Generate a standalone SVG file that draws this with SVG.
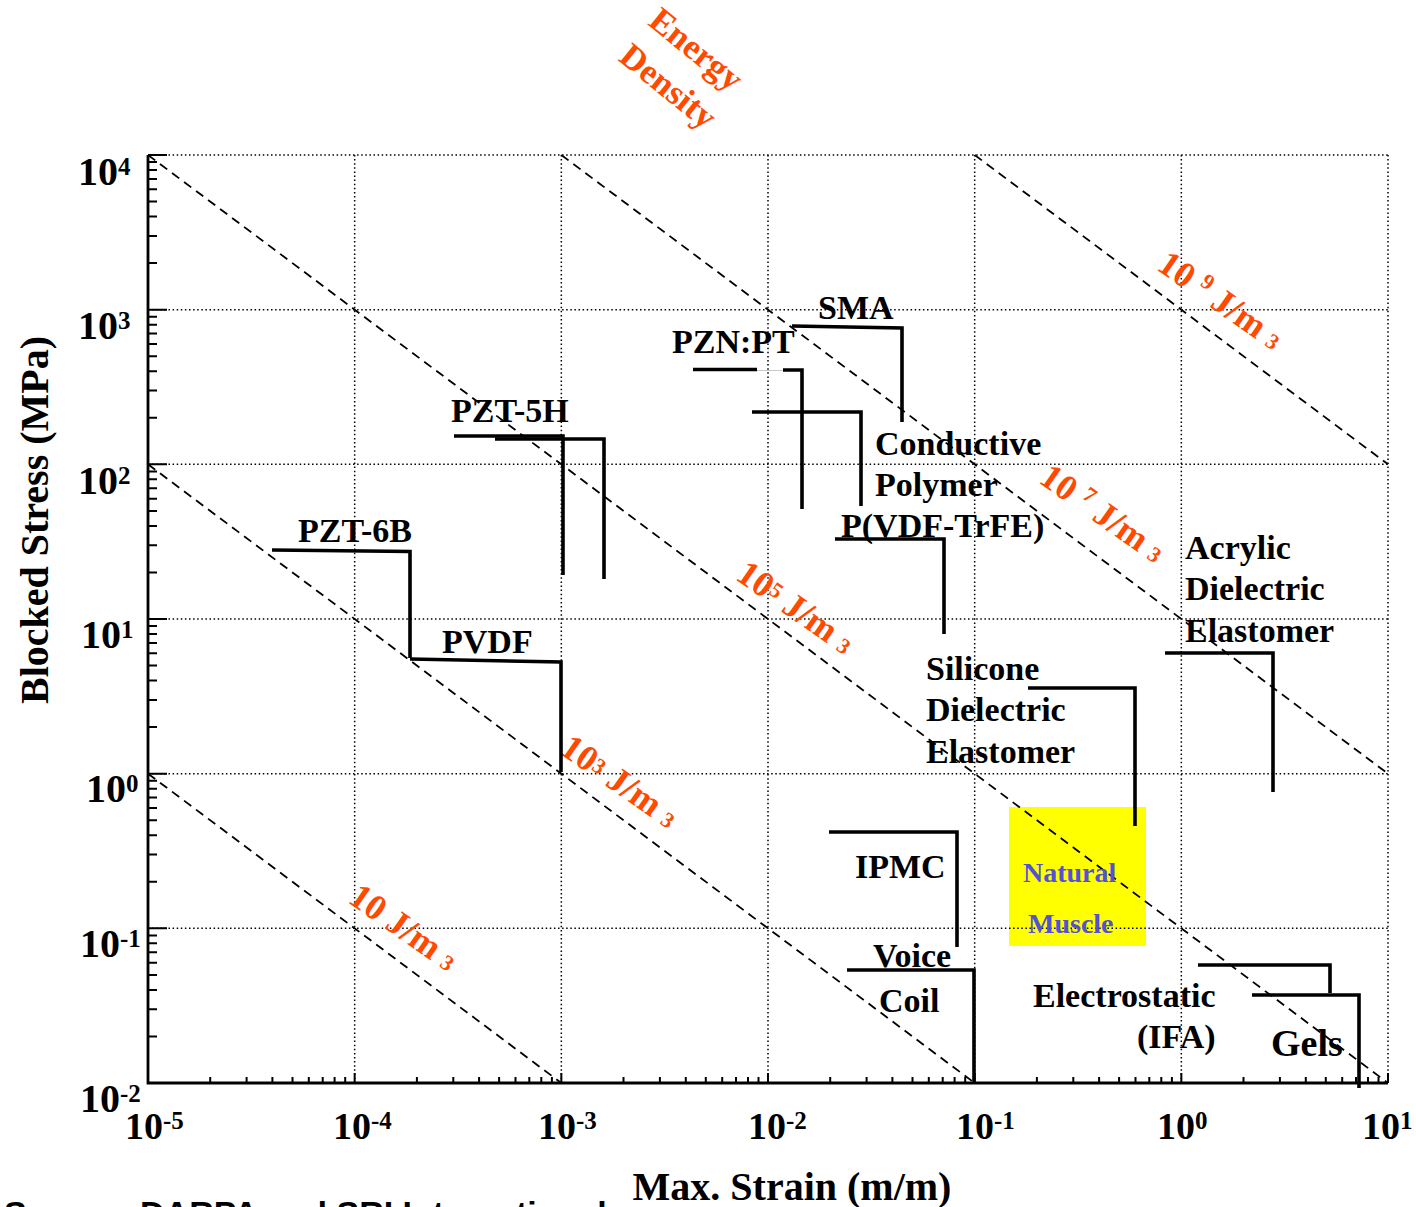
<svg xmlns="http://www.w3.org/2000/svg" width="1416" height="1207" viewBox="0 0 1416 1207">
<style>
.grid{stroke:#000;stroke-width:1.5;stroke-dasharray:1.5 2.6;fill:none}
.axis{stroke:#000;stroke-width:2.8;fill:none}
.tick{stroke:#000;stroke-width:2;fill:none}
.energy{stroke:#000;stroke-width:1.8;stroke-dasharray:9 6;fill:none}
.act{stroke:#000;stroke-width:3.6;fill:none}
.lbl{font-family:"Liberation Serif","Times New Roman",serif;font-weight:bold;font-size:34px;fill:#000}
.num{font-family:"Liberation Serif","Times New Roman",serif;font-weight:bold;font-size:40px;fill:#000}
.numx{font-family:"Liberation Serif","Times New Roman",serif;font-weight:bold;font-size:38px;fill:#000}
.sup{font-size:25px}
.el{font-family:"Liberation Serif","Times New Roman",serif;font-weight:bold;font-size:36px;fill:#FF4A00}
.ed{font-family:"Liberation Serif","Times New Roman",serif;font-weight:bold;font-size:35px;fill:#FF4A00}
.small{font-size:22px}
.nm{font-family:"Liberation Serif","Times New Roman",serif;font-weight:bold;font-size:28px;fill:#5252D4}
.title{font-family:"Liberation Serif","Times New Roman",serif;font-weight:bold;font-size:40px;fill:#000}
.src{font-family:"Liberation Sans",Arial,sans-serif;font-weight:bold;font-size:34px;fill:#000}
</style>
<rect width="1416" height="1207" fill="#fff"/>

<g id="natural-muscle-box">
<rect x="1009" y="807" width="137" height="139" fill="#FFFF00"/>
</g>

<g id="grid">
<path class="grid" d="M354.67,155V1083M561.33,155V1083M768,155V1083M974.67,155V1083M1181.33,155V1083M1388,155V1083"/>
<path class="grid" d="M148,155H1388M148,309.67H1388M148,464.33H1388M148,619H1388M148,773.67H1388M148,928.33H1388"/>
</g>

<g id="axes">
<path class="axis" d="M148,155V1083H1388"/>
<path class="tick" d="M148,155H167M148,309.67H167M148,464.33H167M148,619H167M148,773.67H167M148,928.33H167"/>
<path class="tick" d="M148,1036.4h9M148,1009.2h9M148,989.9h9M148,974.9h9M148,962.7h9M148,952.3h9M148,943.3h9M148,935.4h9
M148,881.8h9M148,854.5h9M148,835.2h9M148,820.2h9M148,808h9M148,797.6h9M148,788.7h9M148,780.7h9
M148,727.1h9M148,699.9h9M148,680.6h9M148,665.6h9M148,653.3h9M148,643h9M148,634h9M148,626.1h9
M148,572.4h9M148,545.2h9M148,525.9h9M148,510.9h9M148,498.7h9M148,488.3h9M148,479.3h9M148,471.4h9
M148,417.8h9M148,390.5h9M148,371.2h9M148,356.2h9M148,344h9M148,333.6h9M148,324.7h9M148,316.7h9
M148,263.1h9M148,235.9h9M148,216.6h9M148,201.6h9M148,189.3h9M148,179h9M148,170h9M148,162.1h9"/>
<path class="tick" d="M354.67,1083v-10M561.33,1083v-10M768,1083v-10M974.67,1083v-10M1181.33,1083v-10M1388,1083v-10"/>
<path class="tick" d="M210.2,1083v-6M246.6,1083v-6M272.4,1083v-6M292.5,1083v-6M308.8,1083v-6M322.7,1083v-6M334.6,1083v-6M345.2,1083v-6
M416.9,1083v-6M453.3,1083v-6M479.1,1083v-6M499.1,1083v-6M515.5,1083v-6M529.3,1083v-6M541.3,1083v-6M551.9,1083v-6
M623.5,1083v-6M659.9,1083v-6M685.8,1083v-6M705.8,1083v-6M722.2,1083v-6M736,1083v-6M748,1083v-6M758.5,1083v-6
M830.2,1083v-6M866.6,1083v-6M892.4,1083v-6M912.5,1083v-6M928.8,1083v-6M942.7,1083v-6M954.6,1083v-6M965.2,1083v-6
M1036.9,1083v-6M1073.3,1083v-6M1099.1,1083v-6M1119.1,1083v-6M1135.5,1083v-6M1149.3,1083v-6M1161.3,1083v-6M1171.9,1083v-6
M1243.5,1083v-6M1279.9,1083v-6M1305.8,1083v-6M1325.8,1083v-6M1342.2,1083v-6M1356,1083v-6M1368,1083v-6M1378.5,1083v-6"/>
</g>

<g id="tick-labels">
<text class="num" x="78" y="185">10<tspan class="sup" dy="-10">4</tspan></text>
<text class="num" x="78" y="339">10<tspan class="sup" dy="-10">3</tspan></text>
<text class="num" x="78" y="494">10<tspan class="sup" dy="-10">2</tspan></text>
<text class="num" x="81" y="648">10<tspan class="sup" dy="-10">1</tspan></text>
<text class="num" x="86" y="802">10<tspan class="sup" dy="-10">0</tspan></text>
<text class="num" x="80" y="957">10<tspan class="sup" dy="-10">-1</tspan></text>
<text class="num" x="80" y="1112">10<tspan class="sup" dy="-10">-2</tspan></text>
<text class="numx" x="125" y="1139">10<tspan class="sup" dy="-10">-5</tspan></text>
<text class="numx" x="333" y="1139">10<tspan class="sup" dy="-10">-4</tspan></text>
<text class="numx" x="538" y="1139">10<tspan class="sup" dy="-10">-3</tspan></text>
<text class="numx" x="748" y="1139">10<tspan class="sup" dy="-10">-2</tspan></text>
<text class="numx" x="956" y="1139">10<tspan class="sup" dy="-10">-1</tspan></text>
<text class="numx" x="1157" y="1139">10<tspan class="sup" dy="-10">0</tspan></text>
<text class="numx" x="1362" y="1139">10<tspan class="sup" dy="-10">1</tspan></text>
</g>

<g id="axis-titles">
<text class="title" transform="translate(48,520) rotate(-90)" text-anchor="middle">Blocked Stress (MPa)</text>
<text class="title" x="792" y="1200" text-anchor="middle">Max. Strain (m/m)</text>
<text class="src" x="4" y="1225">Source: DARPA and SRI International</text>
</g>

<g id="energy-lines">
<path class="energy" d="M148,773.67L561.33,1083"/>
<path class="energy" d="M148,464.33L974.67,1083"/>
<path class="energy" d="M148,155L1388,1083"/>
<path class="energy" d="M561.33,155L1388,773.67"/>
<path class="energy" d="M974.67,155L1388,464.33"/>
</g>

<g id="energy-labels">
<g transform="translate(694,52) rotate(39)"><text class="ed" x="0" y="8" text-anchor="middle">Energy</text></g>
<g transform="translate(666,89) rotate(39)"><text class="ed" x="0" y="8" text-anchor="middle">Density</text></g>
<g transform="translate(404,927) rotate(35)"><text class="el" x="0" y="12" text-anchor="middle">10 J/m <tspan class="small">3</tspan></text></g>
<g transform="translate(620,781) rotate(35)"><text class="el" x="0" y="12" text-anchor="middle">10<tspan class="small" dy="-5">3</tspan><tspan dy="5"> J/m </tspan><tspan class="small">3</tspan></text></g>
<g transform="translate(796,607) rotate(35)"><text class="el" x="0" y="12" text-anchor="middle">10<tspan class="small" dy="-7">5</tspan><tspan dy="7"> J/m </tspan><tspan class="small">3</tspan></text></g>
<g transform="translate(1103,513) rotate(35)"><text class="el" x="0" y="12" text-anchor="middle">10 <tspan class="small" dy="-12">7</tspan><tspan dy="12"> J/m </tspan><tspan class="small">3</tspan></text></g>
<g transform="translate(1221,300) rotate(35)"><text class="el" x="0" y="12" text-anchor="middle">10 <tspan class="small" dy="-12">9</tspan><tspan dy="12"> J/m </tspan><tspan class="small">3</tspan></text></g>
</g>

<g id="pzt-6b">
<path class="act" d="M272,550L410,551.5V658"/>
<text class="lbl" x="298" y="542">PZT-6B</text>
</g>
<g id="pvdf">
<path class="act" d="M410,659L561,662V772"/>
<text class="lbl" x="442" y="653">PVDF</text>
</g>
<g id="pzt-5h">
<path class="act" d="M454,436H563V575"/>
<path class="act" d="M495,439H604V579"/>
<text class="lbl" x="451" y="422">PZT-5H</text>
</g>
<g id="pzn-pt">
<path class="act" d="M693,369.5H757"/>
<path d="M757,370.5H783" stroke="#c8c8c8" stroke-width="1"/>
<path class="act" d="M783,370H802V509"/>
<text class="lbl" x="672" y="353">PZN:PT</text>
</g>
<g id="pzn-pt-2">
<path class="act" d="M752,412H861V506"/>
</g>
<g id="sma">
<path class="act" d="M792,326L902,328V422"/>
<text class="lbl" x="818" y="319">SMA</text>
</g>
<g id="conductive-polymer">
<text class="lbl" x="875" y="455">Conductive</text>
<text class="lbl" x="875" y="496">Polymer</text>
</g>
<g id="p-vdf-trfe">
<path class="act" d="M835,539H944V634"/>
<text class="lbl" x="841" y="537">P(VDF-TrFE)</text>
</g>
<g id="acrylic">
<path class="act" d="M1165,653H1273V792"/>
<text class="lbl" x="1185" y="559">Acrylic</text>
<text class="lbl" x="1185" y="600">Dielectric</text>
<text class="lbl" x="1185" y="642">Elastomer</text>
</g>
<g id="silicone">
<path class="act" d="M1028,688H1135V826"/>
<text class="lbl" x="926" y="680">Silicone</text>
<text class="lbl" x="926" y="721">Dielectric</text>
<text class="lbl" x="926" y="763">Elastomer</text>
</g>
<g id="natural-muscle">
<text class="nm" x="1023" y="882">Natural</text>
<text class="nm" x="1028" y="933">Muscle</text>
</g>
<g id="ipmc">
<path class="act" d="M829,832H957V947"/>
<text class="lbl" x="855" y="878">IPMC</text>
</g>
<g id="voice-coil">
<path class="act" d="M847,970H974V1083"/>
<text class="lbl" x="873" y="967">Voice</text>
<text class="lbl" x="879" y="1012">Coil</text>
</g>
<g id="electrostatic">
<path class="act" d="M1198,965H1330V993"/>
<text class="lbl" x="1033" y="1007">Electrostatic</text>
<text class="lbl" x="1137" y="1048">(IFA)</text>
</g>
<g id="gels">
<path class="act" d="M1252,995H1359V1088"/>
<text class="lbl" x="1271" y="1056" style="font-size:38px">Gels</text>
</g>
</svg>
